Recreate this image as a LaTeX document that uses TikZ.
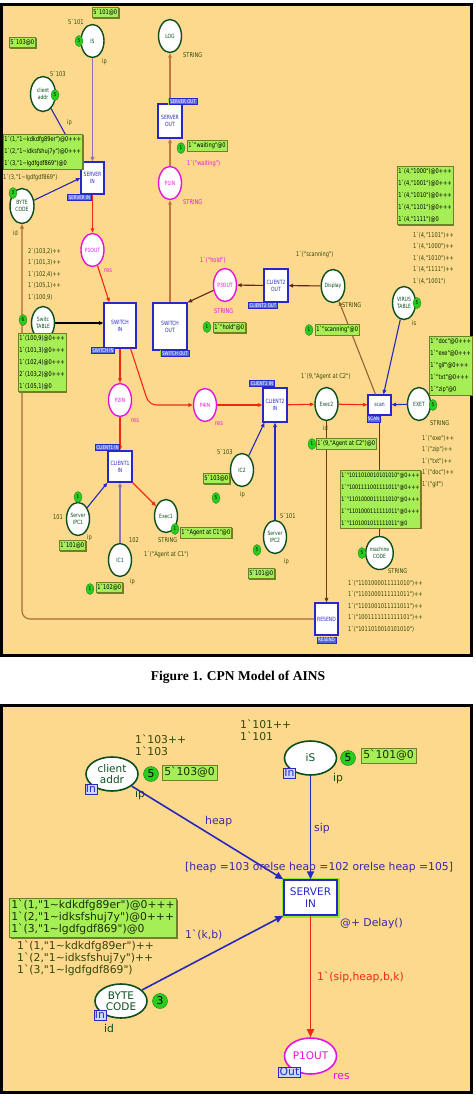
\documentclass[tikz,border=0pt]{standalone}
\usepackage{fontspec}
\setmainfont{Liberation Serif}
\newfontfamily\cpnfont{DejaVu Sans}[FakeStretch=0.78,Ligatures=TeXOff]
\newfontfamily\cpnbig{DejaVu Sans}[Ligatures=TeXOff]
\usetikzlibrary{shapes.geometric,arrows.meta,shadows}
\newcommand\cpnT{\cpnfont\fontsize{6.5}{11.5}\selectfont}
\newcommand\cpnM{\cpnfont\fontsize{6.5}{12}\selectfont}
\newcommand\cpnMs{\cpnfont\fontsize{6.1}{12}\selectfont}
\newcommand\cpnP{\cpnfont\fontsize{5.8}{7}\selectfont}
\newcommand\cpnS{\cpnfont\fontsize{5.2}{6}\selectfont}
\newcommand\cpnB{\cpnbig\fontsize{10.8}{12}\selectfont}
\newcommand\cpnBP{\cpnbig\fontsize{10.5}{11.5}\selectfont}
\newcommand\tld{\textasciitilde}
\definecolor{bg}{RGB}{252,217,140}
\definecolor{mgreen}{RGB}{166,238,86}
\definecolor{mshadow}{RGB}{112,128,40}
\definecolor{tokg}{RGB}{40,205,30}
\definecolor{pgreen}{RGB}{12,78,30}
\definecolor{pmag}{RGB}{228,20,222}
\definecolor{tblue}{RGB}{40,40,200}
\definecolor{tagfill}{RGB}{86,104,222}
\definecolor{arcblue}{RGB}{40,40,190}
\definecolor{arcgray}{RGB}{140,118,176}
\definecolor{arcred}{RGB}{242,40,20}
\definecolor{brl}{RGB}{190,120,64}
\definecolor{brd}{RGB}{96,40,16}
\definecolor{itext}{RGB}{50,72,10}
\definecolor{glow}{RGB}{150,235,40}
\definecolor{intag}{RGB}{205,215,250}
\definecolor{lblue}{RGB}{60,40,170}
\begin{document}
\begin{tikzpicture}[x=1pt,y=-1pt,
  place/.style={ellipse, draw=pgreen, line width=1.4pt, fill=white, minimum width=23pt, minimum height=33pt, inner sep=0pt, font=\cpnP, text=pgreen, align=center},
  mplace/.style={place, draw=pmag, text=pmag},
  trans/.style={rectangle, draw=tblue, line width=1.2pt, fill=white, inner sep=0pt, font=\cpnP, text=tblue, align=center},
  ttag/.style={rectangle, draw=tblue, fill=tagfill, text=white, font=\cpnS, inner sep=1pt, line width=0.6pt},
  gtag/.style={ttag, preaction={draw=glow, line width=2pt}},
  mbox/.style={rectangle, draw=mshadow, line width=0.5pt, fill=mgreen, font=\cpnM, align=left, inner xsep=1.2pt, inner ysep=2pt, anchor=north west, drop shadow={shadow xshift=1.2pt, shadow yshift=-1.2pt, fill=mshadow, opacity=1}},
  tok/.style={ellipse, fill=tokg, draw=tokg!60!black, line width=0.3pt, inner sep=0pt, minimum width=8pt, minimum height=11pt, font=\cpnS},
  insc/.style={font=\cpnT, text=itext, anchor=west, inner sep=0pt, align=left},
  minsc/.style={insc, text=pmag},
  arc/.style={line width=1.1pt, -{Triangle[length=4.5pt,width=3.6pt]}},
  bplace/.style={ellipse, draw=pgreen, line width=1.6pt, fill=white, minimum width=52pt, minimum height=34pt, inner sep=0pt, font=\cpnBP, text=pgreen, align=center},
  btrans/.style={rectangle, draw=tblue, line width=1.5pt, fill=white, inner sep=0pt, font=\cpnBP, text=tblue, align=center, minimum width=53pt, minimum height=35pt, preaction={draw=glow, line width=5pt}},
  btag/.style={rectangle, draw=tblue, fill=intag, text=tblue, font=\cpnB, inner sep=1pt, line width=0.8pt},
  bmbox/.style={rectangle, draw=mshadow, line width=0.6pt, fill=mgreen, font=\cpnB, text=itext!60!black, align=left, inner xsep=2pt, inner ysep=2pt, anchor=north west, drop shadow={shadow xshift=1.5pt, shadow yshift=-1.5pt, fill=mshadow, opacity=1}},
  btok/.style={circle, fill=tokg, draw=tokg!60!black, line width=0.4pt, inner sep=0pt, minimum size=15pt, font=\cpnB},
  binsc/.style={font=\cpnB, text=itext, anchor=west, inner sep=0pt, align=left},
  barc/.style={line width=1.6pt, -{Triangle[length=8pt,width=7pt]}}
]
\useasboundingbox (0,0) rectangle (476,1104);
\fill[white] (0,0) rectangle (476,1104);
\draw[line width=3pt, fill=bg] (1.5,4.5) rectangle (471.5,655.5);
\draw[line width=3pt, fill=bg] (1.5,705) rectangle (471.5,1092.5);

% ================= top figure: places
\node[place] (is) at (92.5,41) {IS};
\node[place, minimum width=25pt, minimum height=35pt] (caddr) at (43,94) {client\\addr};
\node[place, minimum width=24pt, minimum height=35pt] (byte) at (22,206) {BYTE\\CODE};
\node[mplace] (p1out) at (92.5,250) {P1OUT};
\node[place] (swt) at (43,323) {Switc\\TABLE};
\node[mplace] (p2in) at (120,400) {P2IN};
\node[place] (log) at (170,36) {LOG};
\node[mplace] (p1in) at (170,183) {P1IN};
\node[mplace] (p3out) at (225,285) {P3OUT};
\node[mplace] (p4in) at (205,405) {P4IN};
\node[place] (disp) at (333,286) {Display};
\node[place] (virus) at (404,303) {VIRUS\\TABLE};
\node[place] (exec2) at (326.5,404) {Exec2};
\node[place] (exet) at (419,404) {EXET};
\node[place] (mcode) at (379.5,553) {machine\\CODE};
\node[place] (ipc1) at (78,519) {Server\\IPC1};
\node[place] (ic1) at (120,560) {IC1};
\node[place] (exec1) at (166,516) {Exec1};
\node[place] (ic2) at (242,470) {IC2};
\node[place] (ipc2) at (275,537) {Server\\IPC2};

% transitions
\node[trans, minimum width=23pt, minimum height=32pt] (sin) at (92.5,178) {SERVER\\IN};
\node[trans, minimum width=32pt, minimum height=45pt] (swin) at (120,325.5) {SWITCH\\IN};
\node[trans, minimum width=34pt, minimum height=47pt] (swout) at (170,326.5) {SWITCH\\OUT};
\node[trans, minimum width=24pt, minimum height=34pt] (sout) at (170,121) {SERVER\\OUT};
\node[trans, minimum width=24pt, minimum height=33pt] (c2out) at (276,285.5) {CLIENT2\\OUT};
\node[trans, minimum width=24pt, minimum height=34pt] (c2in) at (275,405) {CLIENT2\\IN};
\node[trans, minimum width=24pt, minimum height=31pt] (c1in) at (120,466.5) {CLIENT1\\IN};
\node[trans, minimum width=23pt, minimum height=20pt] (scan) at (379.5,405) {scan};
\node[trans, minimum width=23pt, minimum height=32pt] (resend) at (326.5,619) {RESEND};

% arcs
\draw[arc, arcgray] (is) -- (sin);
\draw[arc, arcblue] (caddr) -- (sin.north west);
\draw[arc, arcblue] (byte) -- (sin.west);
\draw[arc, arcred] (sin) -- (p1out);
\draw[arc, arcred] (p1out) -- ([xshift=6pt]swin.north west);
\draw[arc, black] (swt.east) -- (swt.east -| swin.west);
\draw[arc, arcred] (swin) -- (p2in);
\draw[arc, arcred] ([xshift=-6pt]swin.south east) -- (146,396) .. controls (149,404) and (152,405) .. (160,405) -- (p4in.west);
\draw[arc, arcred] (p2in) -- (c1in);
\draw[arc, arcred] (c1in.south east) -- (exec1);
\draw[arc, arcblue] (ipc1) -- (c1in.south west);
\draw[arc, arcgray] (ic1) -- (c1in);
\draw[arc, arcred] (p4in) -- (c2in);
\draw[arc, arcred] (c2in) -- (exec2);
\draw[arc, arcblue] (ic2) -- ([xshift=2pt]c2in.south west);
\draw[arc, arcblue] (ipc2) -- (c2in);
\draw[arc, arcred] (exec2) -- (scan);
\draw[arc, arcblue] (exet) -- (scan);
\draw[arc, arcblue] (virus) -- ([xshift=4pt]scan.north);
\draw[arc, lblue] (mcode) -- (scan);
\draw[arc, brl!80!black] ([xshift=-4pt]scan.north) -- (disp);
\draw[arc, brd] (disp) -- (c2out);
\draw[arc, brd] (c2out) -- (p3out);
\draw[arc, brd] (p3out) -- (swout.north east);
\draw[arc, brl] (swout) -- (p1in);
\draw[arc, brl] (p1in) -- (sout);
\draw[arc, brl] (sout) -- (log);
\draw[arc, brd!80!brl] (exec2) -- (resend);
\draw[arc, brl!80!brd, rounded corners=8pt] (resend.west) -- (22,619) -- (byte.south);

% tags
\node[gtag] (tg1) at (79.5,197.5) {SERVER IN};
\node[ttag] (tg2) at (103,350.5) {SWITCH IN};
\node[gtag] (tg3) at (175,353.5) {SWITCH OUT};
\node[gtag] (tg4) at (183,101.5) {SERVER OUT};
\node[ttag] (tg5) at (263,305.5) {CLIENT2 OUT};
\node[ttag] (tg6) at (262,383.5) {CLIENT2 IN};
\node[ttag] (tg7) at (107.5,447.5) {CLIENT1 IN};
\node[ttag] (tg8) at (373.5,419) {SCAN};
\node[ttag] (tg9) at (326.5,640) {RESEND};

% tokens
\node[tok] (k1) at (79,41) {5};
\node[tok] (k2) at (55,95) {5};
\node[tok] (k3) at (13,193) {3};
\node[tok] (k4) at (23,320) {6};
\node[tok] (k5) at (181,148) {1};
\node[tok] (k6) at (207,327) {1};
\node[tok] (k7) at (309,330) {1};
\node[tok] (k8) at (417,303) {5};
\node[tok] (k9) at (433,405) {5};
\node[tok] (k10) at (312,444) {1};
\node[tok] (k11) at (362,553) {5};
\node[tok] (k12) at (78,497) {1};
\node[tok] (k13) at (90,589) {1};
\node[tok] (k14) at (216,498) {5};
\node[tok] (k15) at (175,529) {1};
\node[tok] (k16) at (257,550) {5};

% marking boxes
\node[mbox] (m1) at (92,7) {5`101@0};
\node[mbox] (m2) at (9,37) {5`103@0};
\node[mbox] (m3) at (3,134) {1`(1,"1\tld kdkdfg89er")@0+++\\1`(2,"1\tld idksfshuj7y")@0+++\\1`(3,"1\tld lgdfgdf869")@0};
\node[mbox] (m4) at (187,140) {1`"waiting"@0};
\node[mbox] (m5) at (213,322) {1`"hold"@0};
\node[mbox] (m6) at (315,324) {1`"scanning"@0};
\node[mbox] (m7) at (397,166) {1`(4,"1000")@0+++\\1`(4,"1001")@0+++\\1`(4,"1010")@0+++\\1`(4,"1101")@0+++\\1`(4,"1111")@0};
\node[mbox] (m8) at (18,333) {1`(100,9)@0+++\\1`(101,3)@0+++\\1`(102,4)@0+++\\2`(103,2)@0+++\\1`(105,1)@0};
\node[mbox] (m9) at (429,336) {1`"doc"@0+++\\1`"exe"@0+++\\1`"gif"@0+++\\1`"txt"@0+++\\1`"zip"@0};
\node[mbox] (m10) at (316,438) {1`(9,"Agent at C2")@0};
\node[mbox, font=\cpnMs] (m11) at (340,470) {1`"1011010010101010"@0+++\\1`"1001111001111011"@0+++\\1`"1101000011111010"@0+++\\1`"1101000111111011"@0+++\\1`"1101001011111011"@0};
\node[mbox] (m12) at (59,540) {1`101@0};
\node[mbox] (m13) at (96,582) {1`102@0};
\node[mbox] (m14) at (203,473) {5`103@0};
\node[mbox] (m15) at (180,527) {1`"Agent at C1"@0};
\node[mbox] (m16) at (248,568) {5`101@0};

% inscriptions
\node[insc] (i1) at (68,22) {5`101};
\node[insc] (i2) at (102,62) {ip};
\node[insc] (i3) at (50,74) {5`103};
\node[insc] (i4) at (67,123) {ip};
\node[insc] (i5) at (3,178) {1`(3,"1\tld lgdfgdf869")};
\node[insc] (i6) at (13,233) {id};
\node[minsc] (i7) at (104,271) {res};
\node[insc, anchor=north west] (i8) at (28,248) {2`(103,2)++\\1`(101,3)++\\1`(102,4)++\\1`(105,1)++\\1`(100,9)};
\node[minsc] (i9) at (131,421) {res};
\node[insc] (i10) at (183,55) {STRING};
\node[minsc] (i11) at (187,164) {1`("waiting")};
\node[minsc] (i12) at (183,202) {STRING};
\node[minsc] (i13) at (200,260) {1`("hold")};
\node[minsc] (i14) at (214,311) {STRING};
\node[minsc] (i15) at (215,424) {res};
\node[insc] (i16) at (296,255) {1`("scanning")};
\node[insc] (i17) at (342,305) {STRING};
\node[insc] (i18) at (412,323) {is};
\node[insc] (i19) at (301,377) {1`(9,"Agent at C2")};
\node[insc] (i20) at (323,428) {id};
\node[insc] (i21) at (430,423) {STRING};
\node[insc, anchor=north west] (i22) at (413,232) {1`(4,"1101")++\\1`(4,"1000")++\\1`(4,"1010")++\\1`(4,"1111")++\\1`(4,"1001")};
\node[insc, anchor=north west] (i23) at (422,435) {1`("exe")++\\1`("zip")++\\1`("txt")++\\1`("doc")++\\1`("gif")};
\node[insc] (i24) at (388,571) {STRING};
\node[insc, anchor=north west] (i25) at (348,580) {1`("1101000011111010")++\\1`("1101000111111011")++\\1`("1101001011111011")++\\1`("1001111111111101")++\\1`("1011010010101010")};
\node[insc] (i26) at (53,517) {101};
\node[insc] (i27) at (87,538) {ip};
\node[insc] (i28) at (129,540) {102};
\node[insc] (i29) at (130,582) {ip};
\node[insc] (i30) at (217,452) {5`103};
\node[insc] (i31) at (240,495) {ip};
\node[insc] (i32) at (158,540) {STRING};
\node[insc] (i33) at (144,555) {1`("Agent at C1")};
\node[insc] (i34) at (280,516) {5`101};
\node[insc] (i35) at (284,562) {ip};

% caption
\node[font=\bfseries\fontsize{13.5}{15}\selectfont] (cap) at (238,677) {Figure 1. CPN Model of AINS};

% ================= bottom figure
\node[bplace] (bclient) at (112,774) {client\\addr};
\node[bplace] (bis) at (310.5,758) {iS};
\node[bplace] (bbyte) at (121,1001) {BYTE\\CODE};
\node[btrans] (bserver) at (310.5,897.5) {SERVER\\IN};
\node[bplace, draw=pmag, text=pmag, minimum height=36pt] (bp1out) at (310.5,1056) {P1OUT};

\draw[barc, arcblue] (bclient) -- (bserver.north west);
\draw[barc, arcblue] (bis) -- (bserver);
\draw[barc, arcblue] (bbyte) -- (bserver.south west);
\draw[barc, arcred] (bserver) -- (bp1out);

\node[btag] (bt1) at (91,789) {In};
\node[btag] (bt2) at (289.5,773) {In};
\node[btag] (bt3) at (100,1015) {In};
\node[btag] (bt4) at (289.5,1072) {Out};

\node[btok] (bk1) at (151,774) {5};
\node[btok] (bk2) at (348,758) {5};
\node[btok] (bk3) at (160,1001) {3};

\node[bmbox] (bm1) at (162,765) {5`103@0};
\node[bmbox] (bm2) at (361,748) {5`101@0};
\node[bmbox] (bm3) at (9,898) {1`(1,"1\tld kdkdfg89er")@0+++\\1`(2,"1\tld idksfshuj7y")@0+++\\1`(3,"1\tld lgdfgdf869")@0};

\node[binsc, anchor=north west] (bi1) at (135,735) {1`103++\\1`103};
\node[binsc, anchor=north west] (bi2) at (240,720) {1`101++\\1`101};
\node[binsc, text=pgreen] (bi3) at (135,795) {ip};
\node[binsc, text=pgreen] (bi4) at (333,779) {ip};
\node[binsc, text=lblue] (bi5) at (205,822) {heap};
\node[binsc, text=lblue] (bi6) at (314,829) {sip};
\node[binsc, text=lblue] (bi7) at (185,868) {[heap =103 orelse heap =102 orelse heap =105]};
\node[binsc, text=lblue] (bi8) at (340,924) {@+ Delay()};
\node[binsc, text=lblue] (bi9) at (185,935) {1`(k,b)};
\node[binsc, anchor=north west] (bi10) at (17,941) {1`(1,"1\tld kdkdfg89er")++\\1`(2,"1\tld idksfshuj7y")++\\1`(3,"1\tld lgdfgdf869")};
\node[binsc, text=pgreen] (bi11) at (104,1028) {id};
\node[binsc, text=arcred] (bi12) at (317,977) {1`(sip,heap,b,k)};
\node[binsc, text=pmag] (bi13) at (333,1077) {res};
\end{tikzpicture}
\end{document}
